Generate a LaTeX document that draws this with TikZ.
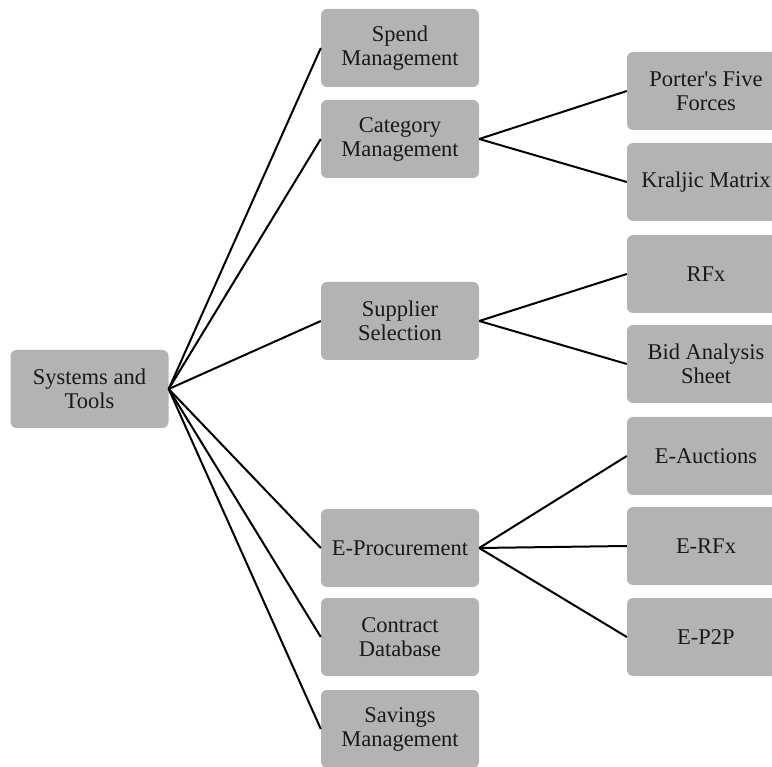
\documentclass[tikz,border=0pt]{standalone}
\usepackage{fontspec}
\setmainfont{Liberation Serif}[Ligatures=TeXOff]
\begin{document}
\begin{tikzpicture}[x=1pt,y=-1pt,
  box/.style={fill=boxgrey, rounded corners=6pt, minimum width=158pt, minimum height=78pt,
    align=center, inner sep=2pt, font=\fontsize{22.5}{24}\selectfont, text=black!90},
  link/.style={line width=2pt, black}]
\definecolor{boxgrey}{HTML}{B3B3B3}
\useasboundingbox (0,0) rectangle (772,767);
\clip (0,0) rectangle (772,767);
% root
\node[box] (root) at (89.5,389) {Systems and\\Tools};
% second level
\node[box] (spend) at (400,48) {Spend\\Management};
\node[box] (cat) at (400,139) {Category\\Management};
\node[box] (sup) at (400,321) {Supplier\\Selection};
\node[box] (eproc) at (400,548) {E-Procurement};
\node[box] (contract) at (400,637) {Contract\\Database};
\node[box] (savings) at (400,729) {Savings\\Management};
% third level
\node[box] (porter) at (706,91) {Porter's Five\\Forces};
\node[box] (kraljic) at (706,182) {Kraljic Matrix};
\node[box] (rfx) at (706,274) {RFx};
\node[box] (bid) at (706,364) {Bid Analysis\\Sheet};
\node[box] (eauc) at (706,456) {E-Auctions};
\node[box] (erfx) at (706,546) {E-RFx};
\node[box] (ep2p) at (706,637) {E-P2P};
% connectors
\foreach \t in {spend,cat,sup,eproc,contract,savings}
  \draw[link] (root.east) -- (\t.west);
\foreach \t in {porter,kraljic}
  \draw[link] (cat.east) -- (\t.west);
\foreach \t in {rfx,bid}
  \draw[link] (sup.east) -- (\t.west);
\foreach \t in {eauc,erfx,ep2p}
  \draw[link] (eproc.east) -- (\t.west);
\end{tikzpicture}
\end{document}
